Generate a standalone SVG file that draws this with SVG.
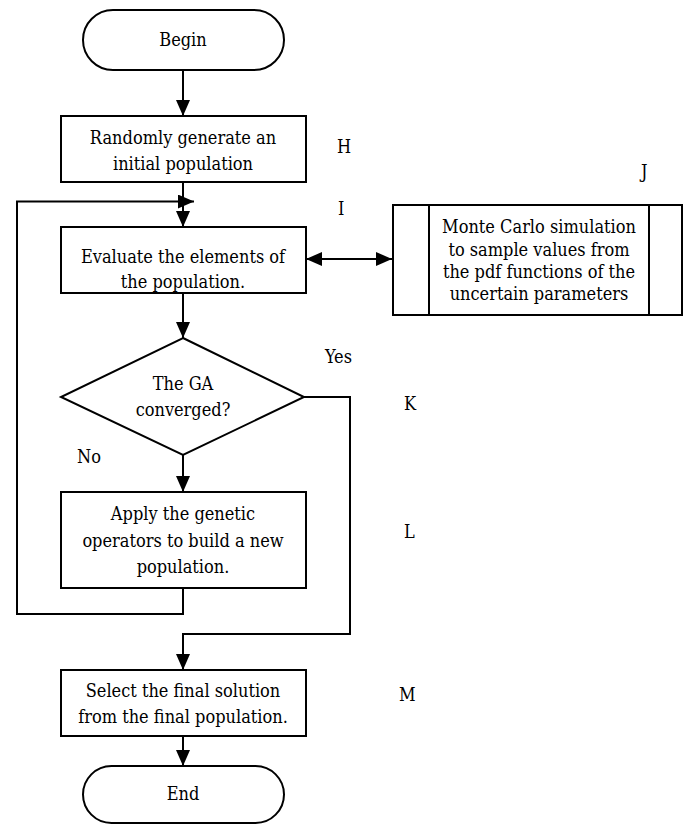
<svg xmlns="http://www.w3.org/2000/svg" width="686" height="824" viewBox="0 0 686 824">
<style>
  .shape { fill: #fff; stroke: #000; stroke-width: 2; }
  .line { fill: none; stroke: #000; stroke-width: 2; }
  text { font-family: "DejaVu Serif Condensed", "DejaVu Serif", serif; font-stretch: condensed; font-size: 18px; fill: #000; }
  .c { text-anchor: middle; }
</style>
<defs>
  <marker id="arr" markerUnits="userSpaceOnUse" markerWidth="16" markerHeight="14" refX="16" refY="7" orient="auto-start-reverse">
    <path d="M0,0 L16,7 L0,14 z" fill="#000"/>
  </marker>
</defs>
<rect width="686" height="824" fill="#fff"/>
<g id="connectors">
  <line class="line" x1="183" y1="70" x2="183" y2="116" marker-end="url(#arr)"/>
  <line class="line" x1="183" y1="182" x2="183" y2="227" marker-end="url(#arr)"/>
  <line class="line" x1="306" y1="259" x2="392" y2="259" marker-start="url(#arr)" marker-end="url(#arr)"/>
  <line class="line" x1="183" y1="293" x2="183" y2="338" marker-end="url(#arr)"/>
  <line class="line" x1="183" y1="455" x2="183" y2="492" marker-end="url(#arr)"/>
  <path class="line" d="M183,588 V614 H17 V201.5 H194" marker-end="url(#arr)"/>
  <path class="line" d="M304,397 H350 V634 H183 V670" marker-end="url(#arr)"/>
  <line class="line" x1="183" y1="736" x2="183" y2="766" marker-end="url(#arr)"/>
</g>
<g id="begin">
  <rect class="shape" x="83" y="10" width="201" height="60" rx="30" ry="30"/>
  <text class="c" x="183" y="46">Begin</text>
</g>
<g id="generate">
  <rect class="shape" x="61" y="116" width="245" height="66"/>
  <text class="c" x="183" y="144">Randomly generate an</text>
  <text class="c" x="183" y="170">initial population</text>
</g>
<g id="evaluate">
  <rect class="shape" x="61" y="227" width="245" height="66"/>
  <text class="c" x="183" y="263">Evaluate the elements of</text>
  <text class="c" x="183" y="288">the population.</text>
</g>
<g id="montecarlo">
  <rect class="shape" x="393" y="205" width="289" height="110"/>
  <line class="line" x1="429" y1="205" x2="429" y2="315"/>
  <line class="line" x1="649" y1="205" x2="649" y2="315"/>
  <text class="c" x="539" y="233">Monte Carlo simulation</text>
  <text class="c" x="539" y="256">to sample values from</text>
  <text class="c" x="539" y="278">the pdf functions of the</text>
  <text class="c" x="539" y="300">uncertain parameters</text>
</g>
<g id="converged">
  <polygon class="shape" points="183,338 304,397 183,455 61,397"/>
  <text class="c" x="183" y="390">The GA</text>
  <text class="c" x="183" y="416">converged?</text>
</g>
<g id="apply">
  <rect class="shape" x="61" y="492" width="245" height="96"/>
  <text class="c" x="183" y="520">Apply the genetic</text>
  <text class="c" x="183" y="547">operators to build a new</text>
  <text class="c" x="183" y="573">population.</text>
</g>
<g id="select">
  <rect class="shape" x="61" y="670" width="245" height="66"/>
  <text class="c" x="183" y="697">Select the final solution</text>
  <text class="c" x="183" y="723">from the final population.</text>
</g>
<g id="end">
  <rect class="shape" x="83" y="766" width="201" height="57" rx="28.5" ry="28.5"/>
  <text class="c" x="183" y="800">End</text>
</g>
<g id="labels">
  <text x="337" y="153">H</text>
  <text x="338" y="215">I</text>
  <text x="641" y="178">J</text>
  <text x="325" y="363">Yes</text>
  <text x="77" y="463">No</text>
  <text x="404" y="410">K</text>
  <text x="404" y="538">L</text>
  <text x="399" y="701">M</text>
</g>
</svg>
